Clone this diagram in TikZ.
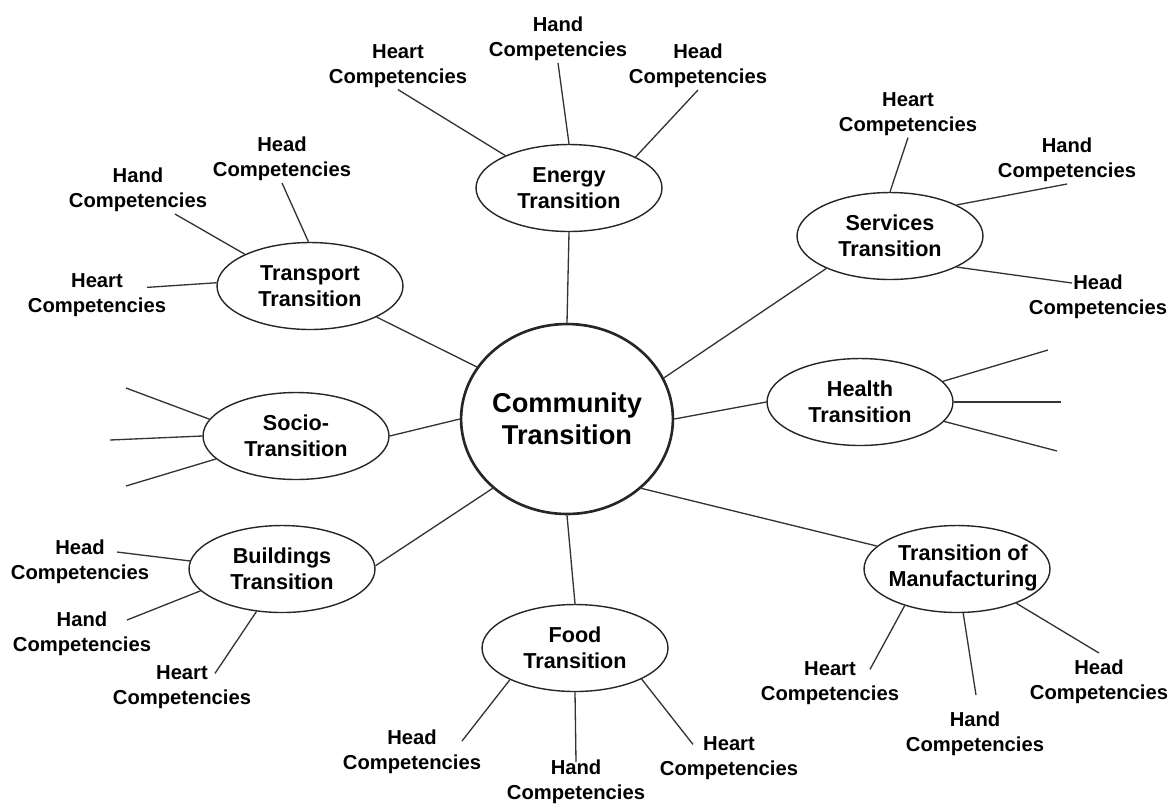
\documentclass[tikz,border=0pt]{standalone}
\usepackage{fontspec}
\setmainfont{Liberation Sans}
\usetikzlibrary{calc,shapes.geometric}

\begin{document}
\begin{tikzpicture}[x=0.02cm,y=-0.02cm,
  hubtext/.style={align=center, inner sep=0pt, font=\fontsize{12.3}{15}\selectfont\bfseries},
  hub/.style={hubtext, draw=black!85, line width=0.8pt, ellipse, minimum width=3.72cm, minimum height=1.74cm},
  comp/.style={align=center, inner sep=1pt, font=\fontsize{11.5}{14.2}\selectfont\bfseries},
  link/.style={draw=black!80, line width=0.75pt}]
\useasboundingbox (0,0) rectangle (1169,806);
\node[hub, line width=1.5pt, minimum width=4.06cm, minimum height=3.8cm, font=\fontsize{15.5}{18}\selectfont\bfseries] (community) at (567,419) {Community\\Transition};
\node[hub] (energy) at (569,188) {Energy\\Transition};\node[hub] (transport) at (310,286) {Transport\\Transition};
\node[hub] (services) at (890,236) {Services\\Transition};\node[hub] (socio) at (296,436) {Socio-\\Transition};
\node[hub] (health) at (860,402) {Health\\Transition};\node[hub] (buildings) at (282,569) {Buildings\\Transition};
\node[hub] (food) at (575,648) {Food\\Transition};\node[hub] (manu) at (957,569) {};
\node[hubtext] (manuText) at (963,568) {Transition of\\Manufacturing};
\draw[link] (energy.south) -- (community.north);\draw[link] (transport.335) -- (community.150);
\draw[link] (services.207) -- (community.23);\draw[link] (health.west) -- (community.east);
\draw[link] (socio.east) -- (community.west);\draw[link] (buildings.2) -- (community.223);
\draw[link] (food.north) -- (community.south);\draw[link] (manu.164) -- (community.317);
\node[comp] (eHeart) at (398,66) {Heart\\Competencies};\node[comp] (eHand) at (558,39) {Hand\\Competencies};\node[comp] (eHead) at (698,66) {Head\\Competencies};
\draw[link] (eHeart.south) -- (energy.153);\draw[link] (eHand.south) -- (energy.north);\draw[link] (eHead.south) -- (energy.25);
\node[comp] (tHead) at (282,159) {Head\\Competencies};\node[comp] (tHand) at (138,190) {Hand\\Competencies};\node[comp] (tHeart) at (97,295) {Heart\\Competencies};
\draw[link] (tHead.south) -- (transport.92);\draw[link] (tHand.-33) -- (transport.154);\draw[link] ($(tHeart.north)+(50,16)$) -- (transport.178);
\node[comp] (sHeart) at (908,114) {Heart\\Competencies};\node[comp] (sHand) at (1067,160) {Hand\\Competencies};\node[comp] (sHead) at (1098,297) {Head\\Competencies};
\draw[link] (sHeart.south) -- (services.north);\draw[link] (sHand.south) -- (services.25);\draw[link] ($(sHead.north)+(-26,10)$) -- (services.335);
\coordinate (soTop) at (126,388);\coordinate (soMid) at (110,440);\coordinate (soBot) at (126,486);
\draw[link] (soTop) -- (socio.169);\draw[link] (soMid) -- (socio.west);\draw[link] (soBot) -- (socio.196);
\coordinate (heTop) at (1048,350);\coordinate (heMid) at (1061,402);\coordinate (heBot) at (1057,451);
\draw[link] (heTop) -- (health.14);\draw[link] (heMid) -- (health.east);\draw[link] (heBot) -- (health.-13);
\node[comp] (bHead) at (80,562) {Head\\Competencies};\node[comp] (bHand) at (82,634) {Hand\\Competencies};\node[comp] (bHeart) at (182,687) {Heart\\Competencies};
\draw[link] ($(bHead.north)+(37,14)$) -- (buildings.175);\draw[link] ($(bHand.north)+(45,10)$) -- (buildings.195);\draw[link] ($(bHeart.north)+(33,10)$) -- (buildings.239);
\node[comp] (fHead) at (412,752) {Head\\Competencies};\node[comp] (fHand) at (576,782) {Hand\\Competencies};\node[comp] (fHeart) at (729,758) {Heart\\Competencies};
\draw[link] ($(fHead.north)+(50,13)$) -- (food.206);\draw[link] ($(fHand.north)+(0,4)$) -- (food.south);\draw[link] ($(fHeart.north)+(-36,10)$) -- (food.335);
\node[comp] (mHeart) at (830,683) {Heart\\Competencies};\node[comp] (mHand) at (975,734) {Hand\\Competencies};\node[comp] (mHead) at (1099,682) {Head\\Competencies};
\draw[link] ($(mHeart.north)+(40,10)$) -- (manu.215);\draw[link] ($(mHand.north)+(1,-15)$) -- (manu.278);\draw[link] ($(mHead.north)+(0,-5)$) -- (manu.330);
\end{tikzpicture}
\end{document}
